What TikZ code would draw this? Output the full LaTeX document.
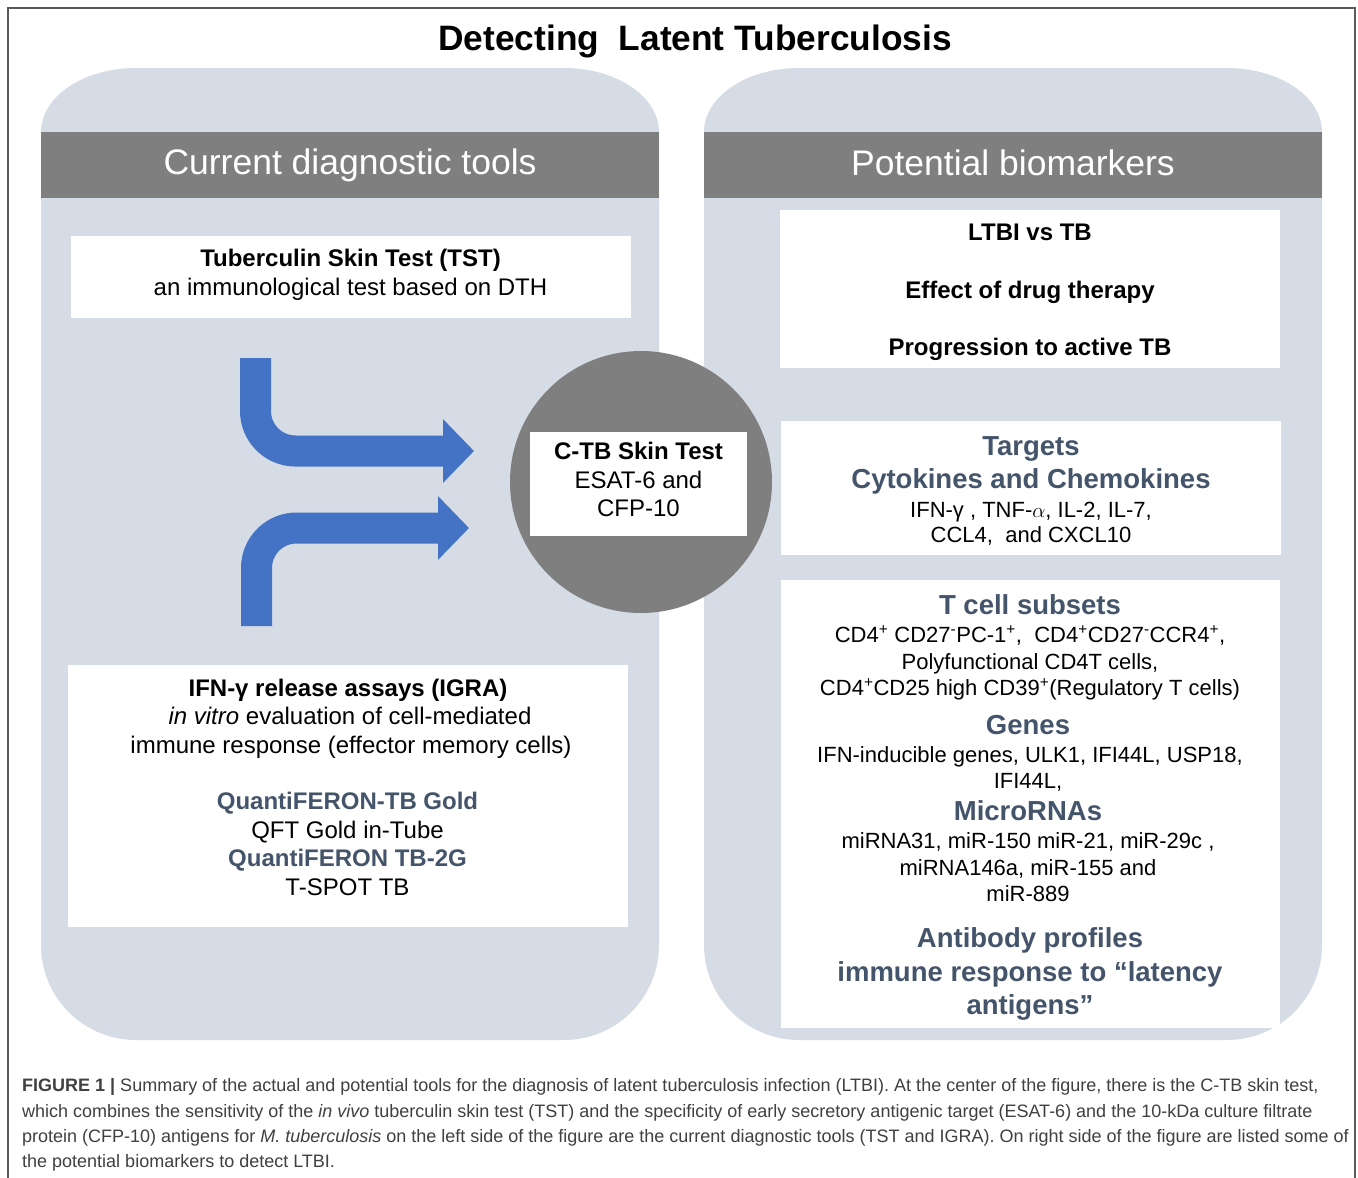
\documentclass[tikz,border=0pt]{standalone}
\usepackage{fontspec}
\setmainfont{Liberation Sans}
\usetikzlibrary{arrows.meta}
\definecolor{panelc}{HTML}{D6DCE5}
\definecolor{hdrc}{HTML}{7F7F7F}
\definecolor{arrowblue}{HTML}{4472C4}
\definecolor{headc}{HTML}{44546A}
\definecolor{capc}{HTML}{404040}
\definecolor{framec}{HTML}{5A5A5A}
\newcommand{\fsz}[1]{\fontsize{#1}{#1}\selectfont}
\newcommand{\panelshape}[2]{%
  \fill[panelc] (#1,945) -- (#1,132)
    .. controls (#1,96.7) and ({#1+42.5},68) .. ({#1+95},68)
    -- ({#2-95},68)
    .. controls ({#2-42.5},68) and (#2,96.7) .. (#2,132)
    -- (#2,945)
    .. controls (#2,997.5) and ({#2-42.5},1040) .. ({#2-95},1040)
    -- ({#1+95},1040)
    .. controls ({#1+42.5},1040) and (#1,997.5) .. (#1,945) -- cycle;}
\begin{document}
\begin{tikzpicture}[x=1pt,y=-1pt,
  txt/.style={anchor=base, inner sep=0pt, outer sep=0pt, text=black},
  body/.style={txt, font=\fsz{24}},
  bodyb/.style={txt, font=\fsz{24}\bfseries},
  qf/.style={txt, font=\fsz{24}\bfseries, text=headc},
  rbody/.style={txt, font=\fsz{22}},
  rhead/.style={txt, font=\fsz{27.5}\bfseries, text=headc},
  hdrtxt/.style={txt, font=\fsz{35.5}, text=white},
  wbox/.style={fill=white, draw=none, inner sep=0pt, anchor=north west},
  hdrbox/.style={fill=hdrc, draw=none, inner sep=0pt, anchor=north west, minimum width=618pt, minimum height=66pt},
  captxt/.style={anchor=base west, inner sep=0pt, font=\fsz{18}, text=capc},
  bigarrow/.style={draw=arrowblue, line width=31pt, rounded corners=40pt, -{Triangle[length=31pt,width=62pt]}}
]
\useasboundingbox (0,0) rectangle (1358,1178);
\fill[white] (0,0) rectangle (1358,1178);
\draw[framec, line width=1.5pt] (8,1180) -- (8,8) -- (1355,8) -- (1355,1180);

\node[txt, font=\fsz{35.3}\bfseries] (title) at (695,50) {Detecting\ \ Latent Tuberculosis};

% panels
\panelshape{41}{659}
\panelshape{704}{1322}
\node[hdrbox] (lhdr) at (41,132) {};
\node[hdrbox] (rhdr) at (704,132) {};
\node[hdrtxt] (lhdrt) at (350,174) {Current diagnostic tools};
\node[hdrtxt] (rhdrt) at (1013,175) {Potential biomarkers};

% left boxes
\node[wbox, minimum width=560pt, minimum height=82pt] (tst) at (71,236) {};
\node[bodyb] (tst1) at (350.5,266.5) {Tuberculin Skin Test (TST)};
\node[body] (tst2) at (350.5,295.5) {an immunological test based on DTH};

\node[wbox, minimum width=560pt, minimum height=262pt] (igra) at (68,665) {};
\node[bodyb] (ig1) at (348,696.5) {IFN-γ release assays (IGRA)};
\node[body] (ig2) at (350,724.5) {\itshape in vitro\upshape{} evaluation of cell-mediated};
\node[body] (ig3) at (351,753.5) {immune response (effector memory cells)};
\node[qf] (ig4) at (347.5,809.5) {QuantiFERON-TB Gold};
\node[body] (ig5) at (347.5,838.5) {QFT Gold in-Tube};
\node[qf] (ig6) at (347.5,866.5) {QuantiFERON TB-2G};
\node[body] (ig7) at (347.5,895.5) {T-SPOT TB};

% arrows
\coordinate (u0) at (255.5,358);
\coordinate (u1) at (474,451);
\coordinate (l0) at (256.5,626);
\coordinate (l1) at (469,528);
\draw[bigarrow] (u0) |- (u1);
\draw[bigarrow] (l0) |- (l1);

% center circle
\node[circle, fill=hdrc, minimum size=262pt, inner sep=0pt] (circ) at (641,482) {};
\node[wbox, minimum width=217pt, minimum height=104pt] (ctb) at (530,432) {};
\node[bodyb] (ctb1) at (638.5,459.5) {C-TB Skin Test};
\node[body] (ctb2) at (638.5,488.5) {ESAT-6 and};
\node[body] (ctb3) at (638.5,516.5) {CFP-10};

% right boxes
\node[wbox, minimum width=500pt, minimum height=158pt] (rb1) at (780,210) {};
\node[bodyb] (rb1a) at (1030,240.5) {LTBI vs TB};
\node[bodyb] (rb1b) at (1030,298.5) {Effect of drug therapy};
\node[bodyb] (rb1c) at (1030,355.5) {Progression to active TB};

\node[wbox, minimum width=500pt, minimum height=134pt] (rb2) at (781,421) {};
\node[rhead] (rb2a) at (1031,455.5) {Targets};
\node[rhead] (rb2b) at (1031,488.5) {Cytokines and Chemokines};
\node[rbody] (rb2c) at (1031,517) {IFN-γ , TNF-$\alpha$, IL-2, IL-7,};
\node[rbody] (rb2d) at (1031,542) {CCL4,\ \ and CXCL10};

\node[wbox, minimum width=499pt, minimum height=448pt] (rb3) at (781,580) {};
\node[rhead] (t1) at (1030,614) {T cell subsets};
\node[rbody] (t2) at (1030,642.5) {CD4\textsuperscript{+} CD27\textsuperscript{-}PC-1\textsuperscript{+},\ \ CD4\textsuperscript{+}CD27\textsuperscript{-}CCR4\textsuperscript{+},};
\node[rbody] (t3) at (1030,669) {Polyfunctional CD4T cells,};
\node[rbody] (t4) at (1030,695.5) {CD4\textsuperscript{+}CD25 high CD39\textsuperscript{+}(Regulatory T cells)};
\node[rhead] (g1) at (1028,734.5) {Genes};
\node[rbody] (g2) at (1030,762.5) {IFN-inducible genes, ULK1, IFI44L, USP18,};
\node[rbody] (g3) at (1028,788.5) {IFI44L,};
\node[rhead] (m1) at (1028,820.5) {MicroRNAs};
\node[rbody] (m2) at (1028,848.5) {miRNA31, miR-150 miR-21, miR-29c ,};
\node[rbody] (m3) at (1028,875) {miRNA146a, miR-155 and};
\node[rbody] (m4) at (1028,901) {miR-889};
\node[rhead] (a1) at (1030,947.5) {Antibody profiles};
\node[rhead] (a2) at (1030,981.5) {immune response to “latency};
\node[rhead] (a3) at (1030,1014.5) {antigens”};

% caption
\node[captxt] (c1) at (22,1091) {\bfseries FIGURE 1 |\mdseries{} Summary of the actual and potential tools for the diagnosis of latent tuberculosis infection (LTBI). At the center of the figure, there is the C-TB skin test,};
\node[captxt] (c2) at (22,1117) {which combines the sensitivity of the \itshape in vivo\upshape{} tuberculin skin test (TST) and the specificity of early secretory antigenic target (ESAT-6) and the 10-kDa culture filtrate};
\node[captxt] (c3) at (22,1142) {protein (CFP-10) antigens for \itshape M. tuberculosis\upshape{} on the left side of the figure are the current diagnostic tools (TST and IGRA). On right side of the figure are listed some of};
\node[captxt] (c4) at (22,1167) {the potential biomarkers to detect LTBI.};
\end{tikzpicture}
\end{document}
